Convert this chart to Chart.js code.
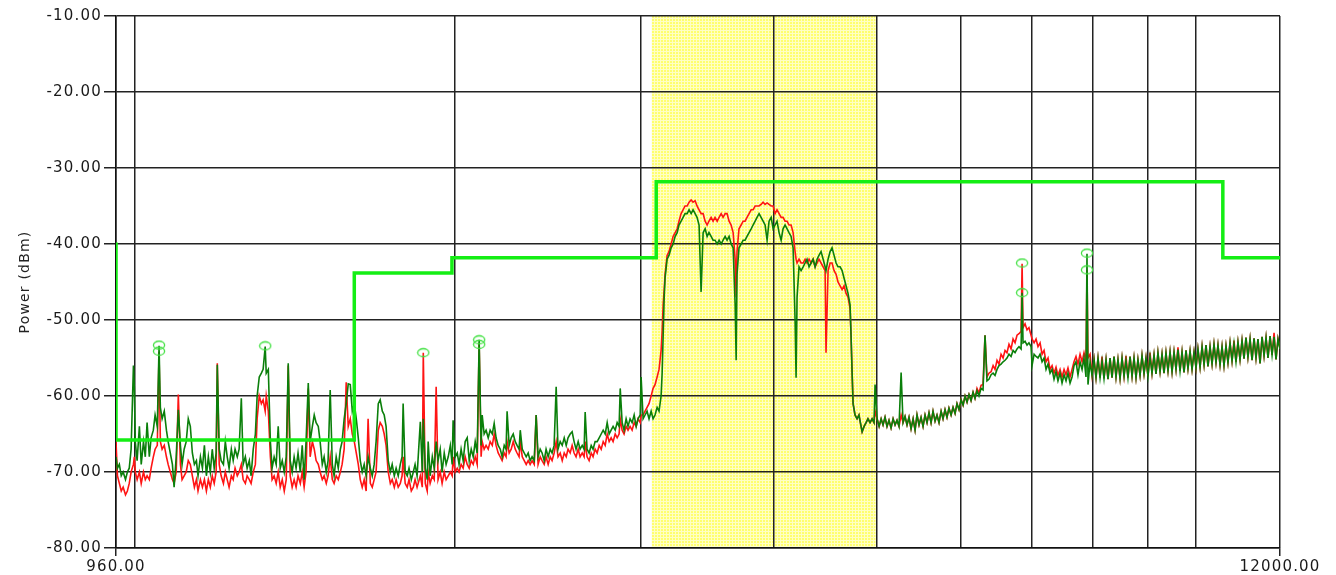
<!DOCTYPE html>
<html>
<head>
<meta charset="utf-8">
<script src="https://cdn.jsdelivr.net/npm/chart.js@4.4.1/dist/chart.umd.min.js"></script>
<style>
  html, body { margin: 0; padding: 0; background: #fff; }
  canvas { display: block; }
</style>
</head>
<body>
<canvas id="spectrumChart" width="1336" height="575"></canvas>
<script>
// sweep frequencies (MHz)
const sweepFreq = [
  // 960 - 1631
  960, 963, 967, 971, 975, 980, 984, 988, 992, 997,
  999, 1001, 1005, 1010, 1014, 1019, 1023, 1027, 1032, 1036,
  1041, 1045, 1050, 1054, 1057, 1061, 1066, 1071, 1075, 1080,
  1085, 1089, 1094, 1099, 1104, 1108, 1113, 1118, 1123, 1128,
  1133, 1138, 1143, 1147, 1153, 1158, 1163, 1168, 1173, 1178,
  1183, 1188, 1193, 1196, 1201, 1206, 1212, 1217, 1222, 1227,
  1233, 1238, 1243, 1249, 1254, 1260, 1265, 1271, 1276, 1282,
  1287, 1293, 1299, 1304, 1310, 1316, 1321, 1327, 1330, 1336,
  1342, 1347, 1353, 1359, 1365, 1371, 1377, 1383, 1389, 1395,
  1401, 1407, 1413, 1419, 1425, 1432, 1438, 1444, 1450, 1457,
  1463, 1470, 1476, 1482, 1489, 1495, 1502, 1508, 1515, 1521,
  1528, 1535, 1541, 1548, 1555, 1562, 1568, 1575, 1582, 1589,
  1596, 1603, 1610, 1617, 1624, 1631,
  // 1638 - 3000
  1638, 1645, 1652, 1659, 1667, 1674, 1681, 1688, 1696, 1703,
  1711, 1718, 1725, 1733, 1741, 1748, 1756, 1763, 1771, 1779,
  1786, 1790, 1798, 1806, 1813, 1822, 1830, 1837, 1845, 1858,
  1866, 1870, 1878, 1886, 1890, 1898, 1907, 1915, 1923, 1931,
  1940, 1948, 1957, 1965, 1974, 1983, 1991, 1995, 2004, 2013,
  2021, 2030, 2039, 2048, 2057, 2066, 2075, 2084, 2093, 2102,
  2111, 2120, 2125, 2134, 2143, 2153, 2162, 2172, 2181, 2190,
  2200, 2210, 2219, 2229, 2238, 2243, 2253, 2263, 2273, 2283,
  2292, 2302, 2308, 2318, 2328, 2338, 2348, 2358, 2368, 2379,
  2389, 2399, 2410, 2420, 2431, 2441, 2452, 2463, 2473, 2484,
  2495, 2505, 2517, 2528, 2539, 2550, 2560, 2572, 2583, 2594,
  2605, 2617, 2628, 2640, 2651, 2657, 2668, 2680, 2692, 2703,
  2715, 2727, 2739, 2751, 2763, 2775, 2787, 2799, 2811, 2823,
  2836, 2848, 2860, 2867, 2879, 2891, 2904, 2916, 2929, 2942,
  2955, 2968, 2980, 2994, 3000,
  // 3013 - 4984 (UWB burst)
  3013, 3026, 3039, 3052, 3066, 3079, 3092, 3106, 3119, 3133,
  3140, 3147, 3154, 3160, 3174, 3187, 3202, 3216, 3230, 3244,
  3257, 3272, 3286, 3300, 3315, 3329, 3344, 3358, 3373, 3387,
  3402, 3417, 3432, 3447, 3462, 3476, 3492, 3507, 3522, 3538,
  3553, 3569, 3584, 3600, 3615, 3631, 3647, 3663, 3679, 3687,
  3694, 3710, 3727, 3743, 3759, 3775, 3792, 3809, 3825, 3842,
  3858, 3875, 3892, 3909, 3926, 3943, 3960, 3978, 3995, 4012,
  4029, 4047, 4065, 4082, 4100, 4118, 4135, 4154, 4172, 4190,
  4199, 4208, 4226, 4245, 4264, 4282, 4300, 4319, 4338, 4357,
  4376, 4395, 4413, 4433, 4453, 4472, 4481, 4501, 4521, 4540,
  4560, 4580, 4599, 4620, 4640, 4660, 4680, 4700, 4721, 4731,
  4742, 4752, 4772, 4793, 4813, 4835, 4846, 4867, 4888, 4908,
  4930, 4952, 4973, 4984,
  // 5006 - 12000
  5006, 5028, 5050, 5071, 5093, 5115, 5137, 5160, 5183, 5205,
  5227, 5250, 5274, 5296, 5319, 5342, 5365, 5389, 5413, 5436,
  5459, 5483, 5507, 5531, 5555, 5579, 5603, 5628, 5652, 5677,
  5701, 5726, 5752, 5776, 5801, 5826, 5851, 5878, 5903, 5929,
  5954, 5980, 6007, 6033, 6059, 6085, 6111, 6138, 6165, 6191,
  6218, 6245, 6273, 6300, 6327, 6354, 6381, 6411, 6439, 6466,
  6494, 6522, 6551, 6580, 6608, 6636, 6665, 6695, 6724, 6753,
  6782, 6811, 6842, 6857, 6871, 6901, 6931, 6960, 6992, 7007,
  7038, 7068, 7098, 7130, 7161, 7192, 7223, 7254, 7286, 7318,
  7349, 7381, 7412, 7446, 7478, 7511, 7543, 7575, 7609, 7642,
  7675, 7708, 7741, 7776, 7810, 7843, 7877, 7894, 7911, 7947,
  7981, 8016, 8050, 8085, 8121, 8156, 8191, 8227, 8262, 8299,
  8335, 8371, 8407, 8443, 8481, 8518, 8555, 8591, 8628, 8667,
  8705, 8742, 8780, 8817, 8857, 8895, 8934, 8972, 9011, 9051,
  9090, 9130, 9169, 9208, 9250, 9290, 9330, 9370, 9411, 9453,
  9494, 9535, 9576, 9617, 9660, 9702, 9744, 9786, 9828, 9872,
  9915, 9958, 10001, 10043, 10089, 10133, 10177, 10220, 10264, 10310,
  10355, 10399, 10444, 10489, 10536, 10582, 10627, 10673, 10719, 10767,
  10814, 10860, 10907, 10954, 11003, 11051, 11099, 11146, 11194, 11245,
  11294, 11343, 11391, 11440, 11492, 11542, 11592, 11642, 11692, 11744,
  11795, 11846, 11897, 11948, 12000
];

// red trace (dBm)
const redTrace = [
  -66, -70.5, -71.5, -72.5, -72, -73, -72.5, -71.5, -70, -69,
  -68, -70, -71, -70, -71.5, -70, -71, -70.5, -71, -69.5,
  -68, -67, -66.5, -54.2, -66, -67, -66.5, -68, -69, -70,
  -71, -71.5, -70, -59.8, -69, -71, -70.5, -70, -68.5, -69,
  -70.5, -72, -71, -72.5, -71, -72, -71, -72.5, -71, -72,
  -70.5, -71.5, -70, -55.7, -69, -70.5, -71.5, -70, -71, -72,
  -70.5, -71, -69.5, -70.5, -70, -69, -71, -71.5, -70.5, -71,
  -71.5, -70, -69, -63, -60, -61, -60.5, -62, -60, -62,
  -68, -71, -70.5, -71.5, -70, -72, -71, -72.5, -71, -56,
  -70.5, -72, -71, -72, -70.5, -71.5, -70, -72, -70, -59,
  -68, -66, -67, -68.5, -69, -70, -71, -70.5, -71.5, -70.5,
  -68, -71, -71.5, -70.5, -71, -70, -69, -67, -58.2, -64,
  -63, -65, -66, -67.5, -69, -71,

  -72, -71, -72.5, -63, -71.5, -72, -71, -70, -64.5, -63.5,
  -64, -65, -66.5, -70, -71.5, -71, -72, -71, -72, -71.5,
  -70.5, -68, -71.5, -72, -71, -72.5, -72, -71, -72, -70.5,
  -72, -54.3, -71.5, -72.5, -70, -71.5, -70.5, -71, -58.8, -71,
  -70, -71.5, -70, -71, -70.5, -70, -70.5, -68, -70, -69.5,
  -70, -69, -69.5, -68, -69, -69.5, -68.5, -69, -68, -69,
  -53, -68, -66, -67, -66.5, -67, -66, -66.5, -65, -66.5,
  -67.5, -68, -68.5, -67.5, -68, -66, -67.5, -67, -66, -67,
  -67.5, -68, -66, -68, -68.5, -69, -68.5, -69, -68.5, -69,
  -62.5, -69, -68, -68.5, -69, -68, -69, -68, -68.5, -67.5,
  -66, -68, -67.5, -68.5, -67.5, -68, -67, -67.5, -66.5, -67.5,
  -68, -67, -68, -67.5, -68, -66, -68, -68.5, -67.5, -68,
  -67, -67.5, -66.5, -67, -66, -66.5, -65, -66, -65.5, -66,
  -65, -65.5, -65, -63, -64.5, -65, -64, -64.5, -64, -64.5,
  -63.5, -64, -63, -63.5, -62.5,

  -62.5, -62, -61.5, -61, -60, -59, -58.5, -57.5, -56.5, -54,
  -51.5, -48, -46, -44, -41.5, -41, -40, -39, -38.5, -38,
  -37, -36, -35.5, -35, -35, -34.5, -34.2, -34.5, -34.3, -35,
  -35.5, -36, -36, -37, -37.5, -37, -36.5, -37, -36.5, -37,
  -36.5, -36, -36.5, -36, -36, -37, -37.5, -38.5, -42, -47,
  -41, -38, -37.5, -37, -37, -36.5, -36, -35.5, -35.5, -35,
  -35, -35, -34.8, -34.5, -34.8, -34.6, -34.8, -35, -35, -36,
  -35.5, -36, -36.5, -36.5, -37, -37, -37.5, -37.5, -38.5, -41,
  -42, -42.5, -42, -42.5, -42.5, -42, -42.5, -42, -42.5, -42,
  -43, -42.5, -42, -42.5, -43, -43.5, -54.3, -43.5, -42.5, -42.5,
  -43.5, -44, -45, -45.5, -46, -45.5, -46.5, -47, -48.5, -52,
  -57, -61, -62.5, -63, -62.5, -64, -64.7, -64, -63.5, -63,
  -63.5, -63, -63.5, -62,

  -63, -64, -63, -63.8, -62.8, -64, -63.2, -64.2, -63, -63.8,
  -63.2, -64, -62.5, -63.5, -62.7, -63.8, -62.8, -64.3, -63, -64.5,
  -62.5, -63.8, -62.8, -64, -62.5, -63.5, -62.2, -63.5, -62, -63.3,
  -62.5, -63.5, -62, -63, -61.8, -62.8, -61.6, -62.5, -61.5, -62.3,
  -61, -61.8, -60.5, -61.2, -60, -60.8, -59.8, -60.6, -59.5, -60.3,
  -59, -59.6, -58.6, -58.5, -52, -57.5, -57, -56.8, -56, -56.5,
  -55.3, -55.8, -54.5, -55, -54, -54.3, -53.2, -53.8, -52.5, -53,
  -52, -51.8, -51.5, -42.6, -51, -50.5, -51.3, -51, -52, -52.5,
  -53, -52.5, -53.5, -53, -54.5, -54, -55.5, -55, -56.5, -56,
  -57, -56.2, -57.3, -56.5, -57.5, -56.5, -57.2, -56.3, -57.5, -56.5,
  -55.5, -54.8, -55.8, -54.5, -55.5, -54.3, -55.5, -43.4, -55, -54.5,
  -57.3, -55.2, -57.6, -55, -57.6, -54.8, -57.7, -55.2, -57.8, -55,
  -57.6, -54.8, -57.5, -55.2, -57.7, -55, -57.4, -54.7, -57.6, -54.8,
  -57.4, -55, -57.6, -55.2, -57.3, -54.7, -57.1, -55, -57.4, -54.3,
  -57, -54.6, -57.1, -54.3, -56.8, -54.5, -57, -54.3, -56.7, -54.2,
  -56.8, -54.2, -56.5, -53.6, -56.7, -54.2, -56.9, -54, -56.4, -54.1,
  -56.5, -54.2, -56.3, -53.8, -56.2, -53.5, -55.9, -53.3, -56.1, -53.5,
  -55.8, -53.2, -55.6, -53.3, -55.9, -53.5, -56, -53.4, -55.6, -53,
  -55.4, -52.7, -55.5, -52.9, -55.2, -52.7, -55.1, -52.3, -54.9, -52.5,
  -55.3, -52.4, -55, -52.5, -55.7, -52.2, -54.7, -52.3, -55, -52.1,
  -54.6, -51.7, -55.2, -52.5, -53.8
];

// green trace (dBm)
const greenTrace = [
  -68, -69.5, -69, -70.5, -70, -71, -70, -69.5, -67, -56,
  -59, -66, -68.5, -64, -69, -66, -68, -63.5, -68, -65.5,
  -64.5, -62.5, -64, -53.4, -61.5, -63, -62, -64.5, -66, -67.5,
  -69, -72, -68, -61.8, -66.5, -69, -67, -66, -63, -64,
  -67.5, -69, -68.5, -70.5, -68, -69.5, -66.5, -70.5, -68, -70,
  -67, -69.5, -67.5, -55.9, -67, -68.5, -69, -66, -68, -69.5,
  -67, -68.5, -67, -68, -67, -60.3, -69, -68, -69.5, -68.5,
  -70.5, -67, -65, -60, -57.5, -57, -56.5, -53.5, -57, -56.5,
  -66, -69.5, -68, -69, -64, -69.5, -68.5, -70, -68, -55.7,
  -68.5, -70, -68, -69.5, -67.5, -70, -66.5, -71, -66, -58.3,
  -66, -64, -62.5, -63.5, -64, -66, -69, -68, -70, -68.5,
  -59.2, -69, -70.5, -68, -69.5, -67, -66, -63, -61, -58.4,
  -58.5, -62, -61, -63, -65.5, -68.5,

  -70, -69, -70.5, -68, -69.5, -70.5, -69, -66, -61, -60.5,
  -62, -62.5, -64, -68.5, -70, -69, -70.5, -69.5, -70.5, -69,
  -68, -61, -70, -70.5, -69.5, -71, -70, -69, -70.5, -63.4,
  -70, -63, -69.5, -71, -66, -70.5, -68, -69.5, -66, -68.5,
  -67, -70, -67.5, -69, -68, -66.5, -69, -63.2, -68, -67.5,
  -69, -67, -68.5, -66, -65.5, -68.5, -67, -68, -66, -67.5,
  -52.6, -66.5, -62.5, -65, -64.5, -65.5, -64.5, -65, -63.6, -65.5,
  -66.5, -67, -68, -66.5, -67, -62, -66.5, -65.5, -65, -66,
  -66.5, -67, -64.5, -67, -67.5, -68, -67.5, -68.5, -68, -68.5,
  -62.5, -68, -67, -67.5, -68.5, -67, -68, -67, -67.5, -66.5,
  -58.8, -67, -66, -66.5, -65.5, -66.5, -65.5, -65, -64.7, -66,
  -67, -66, -67, -66.5, -67, -62.1, -67, -67.5, -66.5, -67,
  -66, -66, -65.5, -65, -64.5, -65, -63.5, -65, -64.5, -64,
  -64.5, -63.5, -64, -59, -63.5, -64.5, -63, -64, -63, -63.5,
  -62.5, -64, -63, -62.5, -57.5,

  -63, -62.5, -62, -63, -62, -63, -62.5, -61.5, -62, -60,
  -57, -52, -47, -44.5, -42, -41.5, -40.5, -40, -39, -38.5,
  -37.5, -37, -36.5, -36, -36, -35.5, -36, -35.5, -36, -36.5,
  -37.5, -46.3, -38.5, -38, -39, -38.5, -39, -39.5, -39.5, -40,
  -39.5, -40, -39.5, -39, -39.5, -39, -40, -40.5, -48, -55.3,
  -44, -40.5, -40, -39.5, -39.5, -39, -38.5, -38, -37.5, -37,
  -36.5, -36, -36.5, -37, -37.5, -39.5, -37, -36.5, -38, -37.5,
  -37, -38.5, -39.5, -38, -37.5, -38, -38.5, -39, -40.5, -50,
  -57.6, -47, -43, -43.5, -43, -42.5, -42, -43, -42.5, -42,
  -43, -42, -41.5, -41, -42, -43, -43.5, -42, -41, -40.5,
  -41.5, -42.5, -43, -43, -43.5, -44.5, -45.5, -46.5, -48, -52,
  -57, -61, -62.5, -63, -62.5, -64, -64.7, -64, -63.5, -63,
  -63.5, -63, -63.5, -58.5,

  -63, -64, -63, -63.8, -62.8, -64, -63.2, -64.2, -63, -63.8,
  -63.2, -64, -56.9, -63.5, -62.7, -63.8, -62.8, -64.3, -63, -64.5,
  -62.5, -63.8, -62.8, -64, -62.5, -63.5, -62.2, -63.5, -62, -63.3,
  -62.5, -63.5, -62, -63, -61.8, -62.8, -61.6, -62.5, -61.5, -62.3,
  -61, -61.8, -60.5, -61.2, -60, -60.8, -59.8, -60.6, -59.5, -60.3,
  -59.3, -60, -59, -59.2, -52, -58, -57.8, -57.2, -57, -57.3,
  -56.5, -56, -55.8, -55.5, -55.3, -55, -54.5, -54.8, -54, -54.3,
  -53.8, -53.5, -53.8, -46.4, -53, -52.8, -53.3, -53, -53.5, -56,
  -54.5, -54.8, -55, -54.5, -55.5, -55, -56.5, -55.8, -57, -56.5,
  -57.8, -56.8, -58, -57, -58.3, -57.2, -58, -57, -58.3, -57.5,
  -56, -55.5, -57.2, -55.5, -56.5, -55, -57.5, -41.3, -58.5, -55.5,
  -57.3, -55.2, -57.6, -55, -57.6, -55.4, -57.7, -55.2, -57.8, -55,
  -57.6, -54.8, -57.5, -55.2, -57.7, -55, -57.4, -55.3, -57.6, -54.8,
  -57.4, -55, -57.6, -55.2, -57.3, -54.7, -57.1, -55, -57.4, -54.8,
  -57, -54.6, -57.1, -54.3, -56.8, -54.5, -57, -54.3, -56.7, -54.2,
  -56.8, -54.2, -56.5, -53.9, -56.7, -54.2, -56.9, -54, -56.4, -54.1,
  -56.5, -54.2, -56.3, -53.8, -56.2, -53.5, -55.9, -53.3, -56.1, -53.5,
  -55.8, -53.2, -55.6, -53.3, -55.9, -53.5, -56, -53.4, -55.6, -53,
  -55.4, -53.1, -55.5, -52.9, -55.2, -52.7, -55.1, -52.3, -54.9, -52.5,
  -55.3, -52.4, -55, -52.5, -55.7, -52.2, -54.7, -52.3, -55, -52.1,
  -54.6, -52.2, -55.2, -52.5, -53.8
];

// emission limit mask (stepped)
const maskFreq = [960, 960, 1610, 1610, 1990, 1990, 3100, 3100, 10600, 10600, 12000];
const maskLevel = [-39.8, -65.8, -65.8, -43.8, -43.8, -41.8, -41.8, -31.8, -31.8, -41.8, -41.8];

// peak markers
const markerFreq = [1054, 1054, 1327, 1870, 2111, 2111, 6857, 6857, 7894, 7894];
const markerLevel = [-53.3, -54.1, -53.4, -54.3, -52.6, -53.2, -42.5, -46.4, -41.2, -43.4];

// highlighted band and axes
const bandStart = 3070;
const bandEnd = 4990;
const gridFreq = [960, 1000, 2000, 3000, 4000, 5000, 6000, 7000, 8000, 9000, 10000, 12000];
const labelFreq = [960, 12000];
const yTicks = [-80, -70, -60, -50, -40, -30, -20, -10];

const pts = (xs, ys) => xs.map((x, i) => ({ x: x, y: ys[i] }));

// little hollow ellipse used for the peak markers
const markerImg = document.createElement('canvas');
markerImg.width = 14;
markerImg.height = 11;
(function () {
    const c = markerImg.getContext('2d');
    c.strokeStyle = '#3ee03e';
    c.lineWidth = 1.3;
    c.beginPath();
    c.ellipse(7, 5.5, 5.6, 4, 0, 0, Math.PI * 2);
    c.stroke();
})();

const bandPlugin = {
    id: 'bandPlugin',
    beforeUpdate(chart) {
        chart.ctx.letterSpacing = '1.2px';
    },
    beforeDraw(chart) {
        const { ctx, chartArea, scales } = chart;
        ctx.letterSpacing = '1.2px';
        const tile = document.createElement('canvas');
        tile.width = 3;
        tile.height = 3;
        const t = tile.getContext('2d');
        t.fillStyle = '#ffff6e';
        t.fillRect(0, 0, 3, 3);
        t.fillStyle = '#ffffc4';
        t.fillRect(0, 0, 3, 1);
        t.fillRect(0, 0, 1, 3);
        const x0 = scales.x.getPixelForValue(bandStart);
        const x1 = scales.x.getPixelForValue(bandEnd);
        ctx.save();
        ctx.fillStyle = ctx.createPattern(tile, 'repeat');
        ctx.fillRect(x0, chartArea.top, x1 - x0, chartArea.bottom - chartArea.top);
        ctx.restore();
    }
};

const tickFont = { family: 'DejaVu Sans', size: 15 };

new Chart(document.getElementById('spectrumChart'), {
    type: 'line',
    data: {
        datasets: [
            {
                label: 'Peaks',
                data: pts(markerFreq, markerLevel),
                showLine: false,
                pointStyle: markerImg,
                pointRadius: 6,
                order: 0
            },
            {
                label: 'Limit',
                data: pts(maskFreq, maskLevel),
                borderColor: '#14ee14',
                borderWidth: 3.5,
                pointRadius: 0,
                order: 1
            },
            {
                label: 'Trace B',
                data: pts(sweepFreq, greenTrace),
                borderColor: '#0a7f0a',
                borderWidth: 1.6,
                pointRadius: 0,
                order: 2
            },
            {
                label: 'Trace A',
                data: pts(sweepFreq, redTrace),
                borderColor: '#ff1414',
                borderWidth: 1.6,
                pointRadius: 0,
                order: 3
            }
        ]
    },
    options: {
        responsive: false,
        animation: false,
        events: [],
        layout: { padding: { left: 0, right: 56, top: 16, bottom: 0 } },
        plugins: {
            legend: { display: false },
            tooltip: { enabled: false }
        },
        scales: {
            x: {
                type: 'logarithmic',
                min: 960,
                max: 12000,
                afterBuildTicks: (scale) => {
                    scale.ticks = gridFreq.map(v => ({ value: v }));
                },
                afterFit: (scale) => { scale.height = 27; },
                ticks: {
                    autoSkip: false,
                    maxRotation: 0,
                    minRotation: 0,
                    padding: 2,
                    color: '#1a1a1a',
                    font: tickFont,
                    callback: (v) => labelFreq.includes(v) ? v.toFixed(2) : ''
                },
                grid: {
                    color: '#222',
                    lineWidth: 1.5,
                    tickLength: 8,
                    tickColor: (ctx) => (ctx.tick && labelFreq.includes(ctx.tick.value)) ? '#222' : 'rgba(0,0,0,0)'
                },
                border: { color: '#111', width: 1.5 }
            },
            y: {
                type: 'linear',
                min: -80,
                max: -10,
                afterBuildTicks: (scale) => {
                    scale.ticks = yTicks.map(v => ({ value: v }));
                },
                afterFit: (scale) => { scale.width = 116; },
                ticks: {
                    padding: 2,
                    color: '#1a1a1a',
                    font: tickFont,
                    callback: (v) => v.toFixed(2)
                },
                grid: {
                    color: '#222',
                    lineWidth: 1.5,
                    tickLength: 12,
                    tickColor: '#222'
                },
                border: { color: '#111', width: 1.5 },
                title: {
                    display: true,
                    text: 'Power (dBm)',
                    color: '#222',
                    font: { family: 'DejaVu Sans', size: 14 },
                    padding: { top: 17, bottom: 0 }
                }
            }
        }
    },
    plugins: [bandPlugin]
});
</script>
</body>
</html>
